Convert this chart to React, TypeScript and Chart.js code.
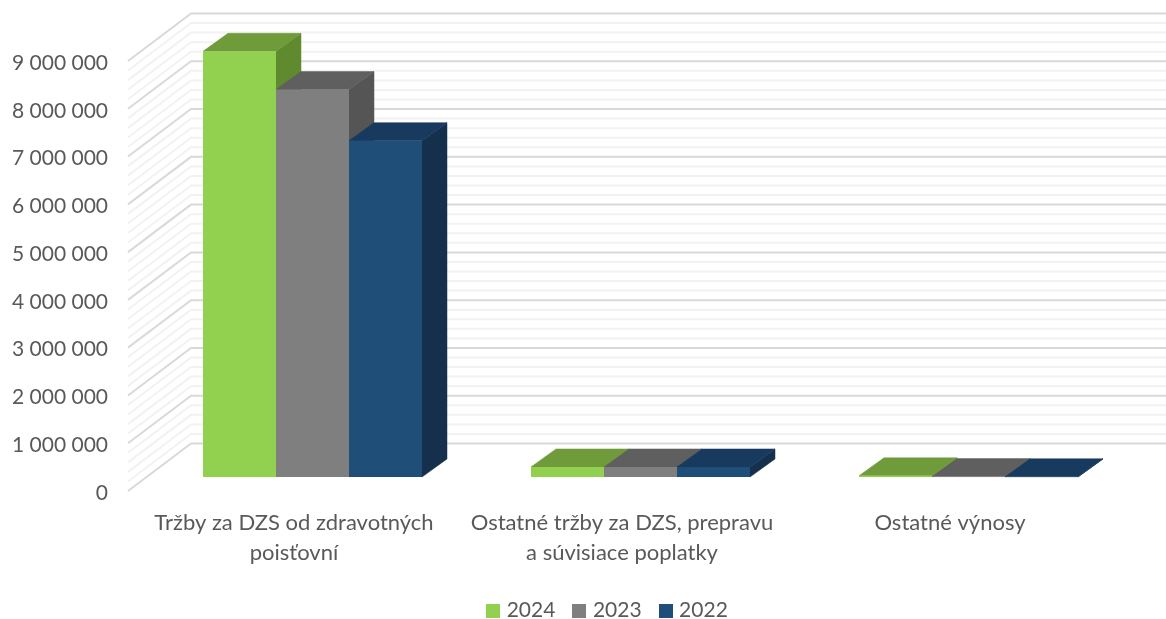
import React, { useEffect, useRef } from "react";
import { Chart, registerables } from "chart.js";

Chart.register(...registerables);

const categories = [
  ["Tržby za DZS od zdravotných", "poisťovní"],
  ["Ostatné tržby za DZS, prepravu", "a súvisiace poplatky"],
  "Ostatné výnosy",
];
const years = ["2024", "2023", "2022"];
const values2024 = [8910000, 210000, 25000];
const values2023 = [8110000, 210000, 8000];
const values2022 = [7040000, 210000, 5000];
const axisMax = 9000000;
const majorStep = 1000000;
const minorStep = 200000;

const frontColors = ["#92D050", "#7F7F7F", "#1F4E79"];
const topColors = ["#6F9B3B", "#5F5F5F", "#173A5E"];
const sideColors = ["#608A2E", "#555555", "#14304D"];

const FONT = "Lato, 'Open Sans', sans-serif";
const TEXT = "#595959";

// Projection of the chart's depth axis on the screen
const WALL = { dx: 63, dy: -47.5, leftInset: -2 };
const BAR_FRONT = { dx: 18.5, dy: -14 };
const BAR_DEPTH = { dx: 25, dy: -18 };
const LEGEND_SHIFT = 52;

function swatch(color: string) {
  const c = document.createElement("canvas");
  c.width = 14;
  c.height = 14;
  const g = c.getContext("2d")!;
  g.fillStyle = color;
  g.fillRect(0, 0, 14, 14);
  return c;
}

function poly(ctx: CanvasRenderingContext2D, pts: number[][], color: string) {
  ctx.fillStyle = color;
  ctx.strokeStyle = color;
  ctx.lineWidth = 0.5;
  ctx.beginPath();
  pts.forEach((p, i) => (i ? ctx.lineTo(p[0], p[1]) : ctx.moveTo(p[0], p[1])));
  ctx.closePath();
  ctx.fill();
  ctx.stroke();
}

const bars3d = {
  id: "bars3d",
  afterLayout(chart: any) {
    chart.legend.left += LEGEND_SHIFT;
    chart.legend.right += LEGEND_SHIFT;
  },
  beforeDatasetsDraw(chart: any) {
    const { ctx, scales, width } = chart;
    const y = scales.y;
    const wallLeft = scales.x.left + WALL.leftInset;
    const backLeft = wallLeft + WALL.dx;

    ctx.save();
    // minor lines first, then major, on the side wall and the back wall
    for (const major of [false, true]) {
      ctx.strokeStyle = major ? "#D9D9D9" : "#F2F2F2";
      ctx.lineWidth = 2;
      for (let v = 0; v <= axisMax; v += minorStep) {
        if ((v % majorStep === 0) !== major) continue;
        const py = y.getPixelForValue(v);
        ctx.beginPath();
        ctx.moveTo(wallLeft, py);
        ctx.lineTo(backLeft, py + WALL.dy);
        ctx.lineTo(width, py + WALL.dy);
        ctx.stroke();
      }
    }

    // the top and the right side of each bar, left to right
    ctx.translate(BAR_FRONT.dx, BAR_FRONT.dy);
    const count = chart.data.labels.length;
    for (let c = 0; c < count; c++) {
      for (let d = 0; d < chart.data.datasets.length; d++) {
        const bar = chart.getDatasetMeta(d).data[c];
        const l = bar.x - bar.width / 2;
        const r = bar.x + bar.width / 2;
        const t = bar.y;
        const b = bar.base;
        const { dx, dy } = BAR_DEPTH;
        poly(ctx, [[r, t], [r + dx, t + dy], [r + dx, b + dy], [r, b]], sideColors[d]);
        poly(ctx, [[l, t], [l + dx, t + dy], [r + dx, t + dy], [r, t]], topColors[d]);
      }
    }
    ctx.restore();

    // front faces are drawn by Chart.js itself in the same plane
    ctx.save();
    ctx.translate(BAR_FRONT.dx, BAR_FRONT.dy);
  },
  afterDatasetsDraw(chart: any) {
    chart.ctx.restore();
  },
};

export default function App() {
  const ref = useRef<HTMLCanvasElement | null>(null);

  useEffect(() => {
    const series = [values2024, values2023, values2022];
    const chart = new Chart(ref.current!, {
      type: "bar",
      data: {
        labels: categories,
        datasets: years.map((year, i) => ({
          label: year,
          data: series[i],
          backgroundColor: frontColors[i],
          categoryPercentage: 219 / 328,
          barPercentage: 1,
          clip: false,
          pointStyle: swatch(frontColors[i]),
        })),
      } as any,
      plugins: [bars3d],
      options: {
        responsive: false,
        animation: false,
        layout: { padding: { top: 61, right: 52, left: 0, bottom: -12 } },
        scales: {
          x: {
            grid: { display: false },
            border: { display: false },
            afterFit: (s: any) => {
              s.height = 88;
            },
            ticks: {
              color: TEXT,
              padding: 9,
              autoSkip: false,
              maxRotation: 0,
              font: { family: FONT, size: 22, lineHeight: 1.37 },
            },
          },
          y: {
            min: 0,
            max: axisMax,
            grid: { display: false, drawTicks: false },
            border: { display: false },
            afterFit: (s: any) => {
              s.width = 130;
            },
            ticks: {
              stepSize: majorStep,
              color: TEXT,
              padding: 22,
              labelOffset: 2,
              font: { family: FONT, size: 21 },
              callback: (v: any) => String(v).replace(/\B(?=(\d{3})+$)/g, " "),
            },
          },
        },
        plugins: {
          title: { display: false },
          tooltip: { enabled: false },
          legend: {
            position: "bottom",
            labels: {
              color: TEXT,
              usePointStyle: true,
              pointStyleWidth: 6,
              padding: 21,
              font: { family: FONT, size: 21 },
              generateLabels: (c: any) =>
                c.data.datasets.map((d: any, i: number) => ({
                  text: d.label,
                  fontColor: TEXT,
                  fillStyle: d.backgroundColor,
                  strokeStyle: d.backgroundColor,
                  lineWidth: 0,
                  pointStyle: d.pointStyle,
                  hidden: false,
                  datasetIndex: i,
                })),
            },
          },
        },
      } as any,
    });
    return () => chart.destroy();
  }, []);

  return (
    <canvas
      ref={ref}
      width={1166}
      height={619}
      style={{ position: "absolute", left: 0, top: 0, width: 1166, height: 619, display: "block" }}
    />
  );
}
